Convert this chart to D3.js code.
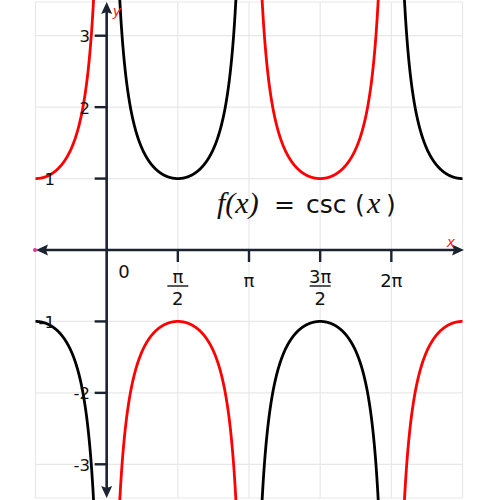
<!DOCTYPE html>
<html><head><meta charset="utf-8">
<script src="https://cdn.jsdelivr.net/npm/d3@7"></script>
<style>body{margin:0;background:#fff}svg{display:block}</style>
</head><body>
<script>
// ---- data ----
const xDomain = [-Math.PI/2, 5*Math.PI/2];
const yDomain = [-3.5, 3.5];
const xGrid = [-0.5, 0, 0.5, 1, 1.5, 2, 2.5].map(k => k*Math.PI);
const yGrid = [-3, -2, -1, 0, 1, 2, 3];
const xTicks = [Math.PI/2, Math.PI, 3*Math.PI/2, 2*Math.PI];
const xTickLabels = [["π","2"], ["π"], ["3π","2"], ["2π"]];
const yTicks = [-3, -2, -1, 1, 2, 3];
const yTickLabels = ["-3", "-2", "-1", "1", "2", "3"];
// branches between asymptotes (multiples of π)
const branches = [[-Math.PI, 0], [0, Math.PI], [Math.PI, 2*Math.PI], [2*Math.PI, 3*Math.PI]];
const seriesNames = ["csc", "negcsc"];
const seriesColors = {csc: "#000000", negcsc: "#ff0000"};
const seriesSign = {csc: 1, negcsc: -1};

const W = 500, H = 500;
const svg = d3.select("body").append("svg").attr("width", W).attr("height", H);
const x = d3.scaleLinear().domain(xDomain).range([35.5, 462.5]);
const y = d3.scaleLinear().domain(yDomain).range([500, 0]);
const axisColor = "#1b2230";

// grid
const grid = svg.append("g").attr("stroke", "#e8e8e8").attr("stroke-width", 1.2);
grid.selectAll(".vx").data(xGrid).join("line")
  .attr("x1", d => x(d)).attr("x2", d => x(d)).attr("y1", 2).attr("y2", 498);
grid.selectAll(".hy").data(yGrid).join("line")
  .attr("y1", d => y(d)).attr("y2", d => y(d)).attr("x1", x(xDomain[0])).attr("x2", x(xDomain[1]));
grid.append("line").attr("x1", x(xDomain[0])).attr("x2", x(xDomain[1])).attr("y1", 2).attr("y2", 2);
grid.append("line").attr("x1", x(xDomain[0])).attr("x2", x(xDomain[1])).attr("y1", 498).attr("y2", 498);

// curves
svg.append("clipPath").attr("id", "clip").append("rect")
  .attr("x", x(xDomain[0])).attr("y", 0).attr("width", x(xDomain[1]) - x(xDomain[0])).attr("height", H);
const curves = svg.append("g").attr("clip-path", "url(#clip)");
const line = d3.line().x(d => x(d[0])).y(d => y(d[1]));
seriesNames.forEach(name => {
  branches.forEach(([a, b]) => {
    const pts = [];
    const n = 600;
    for (let i = 1; i < n; i++) {
      const t = a + (b - a) * i / n;
      const v = seriesSign[name] / Math.sin(t);
      if (Math.abs(v) < 6) pts.push([t, v]);
    }
    curves.append("path").attr("d", line(pts)).attr("fill", "none")
      .attr("stroke", seriesColors[name]).attr("stroke-width", 2.8);
  });
});

// axes
const ax = svg.append("g");
const x0 = x(0), y0 = y(0);
ax.append("line").attr("x1", 40).attr("x2", 458).attr("y1", y0).attr("y2", y0)
  .attr("stroke", axisColor).attr("stroke-width", 2.6);
ax.append("line").attr("x1", x0).attr("x2", x0).attr("y1", 8).attr("y2", 492)
  .attr("stroke", axisColor).attr("stroke-width", 2.6);
// arrowheads
ax.append("path").attr("d", `M464,${y0} L452,${y0-5.5} L454,${y0} L452,${y0+5.5}Z`).attr("fill", axisColor);
ax.append("path").attr("d", `M36,${y0} L48,${y0-5.5} L46,${y0} L48,${y0+5.5}Z`).attr("fill", axisColor);
ax.append("path").attr("d", `M${x0},2 L${x0-5.5},14 L${x0},12 L${x0+5.5},14Z`).attr("fill", axisColor);
ax.append("path").attr("d", `M${x0},498 L${x0-5.5},486 L${x0},488 L${x0+5.5},486Z`).attr("fill", axisColor);
ax.append("circle").attr("cx", 35).attr("cy", y0).attr("r", 2).attr("fill", "#e0339a");

// ticks
ax.selectAll(".xt").data(xTicks).join("line")
  .attr("x1", d => x(d)).attr("x2", d => x(d)).attr("y1", y0).attr("y2", y0 + 12)
  .attr("stroke", axisColor).attr("stroke-width", 2.4);
ax.selectAll(".yt").data(yTicks).join("line")
  .attr("y1", d => y(d)).attr("y2", d => y(d)).attr("x1", x0 - 12).attr("x2", x0)
  .attr("stroke", axisColor).attr("stroke-width", 2.4);

const font = "DejaVu Sans, Verdana, sans-serif";
// y labels (±1 labels sit near the left edge in the reference)
ax.selectAll(".yl").data(yTicks).join("text")
  .attr("x", d => Math.abs(d) === 1 ? 55 : 90).attr("y", d => y(d) + 6.5).attr("text-anchor", "end")
  .attr("font-family", font).attr("font-size", 16.5).attr("fill", "#111")
  .text((d, i) => yTickLabels[i]);
// x labels
ax.append("text").attr("x", 124).attr("y", 278).attr("text-anchor", "middle")
  .attr("font-family", font).attr("font-size", 18).attr("fill", "#111").text("0");
xTicks.forEach((d, i) => {
  const lab = xTickLabels[i];
  const cx = x(d);
  if (lab.length === 2) {
    ax.append("text").attr("x", cx).attr("y", 283).attr("text-anchor", "middle")
      .attr("font-family", font).attr("font-size", 18).attr("fill", "#111").text(lab[0]);
    ax.append("line").attr("x1", cx - 10.5).attr("x2", cx + 10.5).attr("y1", 286).attr("y2", 286)
      .attr("stroke", "#111").attr("stroke-width", 1.4);
    ax.append("text").attr("x", cx).attr("y", 305).attr("text-anchor", "middle")
      .attr("font-family", font).attr("font-size", 18).attr("fill", "#111").text(lab[1]);
  } else {
    ax.append("text").attr("x", cx).attr("y", 287).attr("text-anchor", "middle")
      .attr("font-family", font).attr("font-size", 18).attr("fill", "#111").text(lab[0]);
  }
});

// axis names
svg.append("text").attr("x", 451).attr("y", 247).attr("text-anchor", "middle")
  .attr("font-family", font).attr("font-style", "italic").attr("font-size", 14).attr("fill", "#ff2020").text("x");
svg.append("text").attr("x", 117).attr("y", 16).attr("text-anchor", "middle")
  .attr("font-family", font).attr("font-style", "italic").attr("font-size", 14).attr("fill", "#ff2020").text("y");

// title (pieces placed to match the reference)
const serif = "Liberation Serif, Times New Roman, serif";
const tparts = [
  {t: "f(x)", x: 217, f: serif, it: true, s: 30},
  {t: "=", x: 274, f: font, it: false, s: 25},
  {t: "csc", x: 306, f: font, it: false, s: 25},
  {t: "(", x: 355, f: font, it: false, s: 25},
  {t: "x", x: 367, f: serif, it: true, s: 30},
  {t: ")", x: 386, f: font, it: false, s: 25}
];
svg.append("g").selectAll("text").data(tparts).join("text")
  .attr("x", d => d.x).attr("y", 213).attr("font-family", d => d.f)
  .attr("font-style", d => d.it ? "italic" : "normal").attr("font-size", d => d.s)
  .attr("fill", "#111").text(d => d.t);
</script>
</body></html>
